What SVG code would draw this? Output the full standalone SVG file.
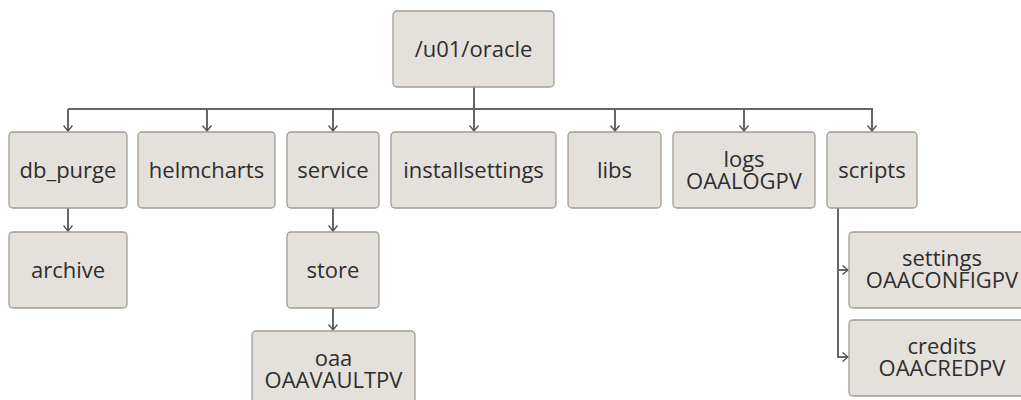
<svg xmlns="http://www.w3.org/2000/svg" width="1021" height="400" viewBox="0 0 1021 400">
<defs>
<style>
.box{fill:#e4e1dc;stroke:#a19b94;stroke-width:1.3}
.t{font-family:"Open Sans","Noto Sans",sans-serif;font-size:22px;fill:#2e2e2e;text-anchor:middle}
.c{fill:none;stroke:#666;stroke-width:2}
</style>
<marker id="ah" viewBox="0 0 10 10" refX="9" refY="5" markerWidth="10" markerHeight="10" markerUnits="userSpaceOnUse" orient="auto">
<path d="M3.5,0.5 L9,5 L3.5,9.5" fill="none" stroke="#555" stroke-width="1.4"/>
</marker>
</defs>
<rect width="1021" height="400" fill="#fff"/>
<g id="connectors">
<path class="c" d="M474,87 V131" marker-end="url(#ah)"/>
<path class="c" d="M68,109 H873"/>
<path class="c" d="M68,109 V131" marker-end="url(#ah)"/>
<path class="c" d="M207,109 V131" marker-end="url(#ah)"/>
<path class="c" d="M333,109 V131" marker-end="url(#ah)"/>
<path class="c" d="M615,109 V131" marker-end="url(#ah)"/>
<path class="c" d="M744,109 V131" marker-end="url(#ah)"/>
<path class="c" d="M872,109 V131" marker-end="url(#ah)"/>
<path class="c" d="M68,208 V231" marker-end="url(#ah)"/>
<path class="c" d="M333,208 V231" marker-end="url(#ah)"/>
<path class="c" d="M333,308 V330" marker-end="url(#ah)"/>
<path class="c" d="M838,208 V357 H848" marker-end="url(#ah)"/>
<path class="c" d="M838,270 H848" marker-end="url(#ah)"/>
</g>
<g id="root"><rect class="box" x="393" y="11" width="161" height="76" rx="4"/><text class="t" x="473.5" y="57">/u01/oracle</text></g>
<g id="db_purge"><rect class="box" x="9" y="132" width="118" height="76" rx="4"/><text class="t" x="68" y="178">db_purge</text></g>
<g id="helmcharts"><rect class="box" x="138" y="132" width="137" height="76" rx="4"/><text class="t" x="206.5" y="178">helmcharts</text></g>
<g id="service"><rect class="box" x="287" y="132" width="92" height="76" rx="4"/><text class="t" x="333" y="178">service</text></g>
<g id="installsettings"><rect class="box" x="391" y="132" width="165" height="76" rx="4"/><text class="t" x="473.5" y="178">installsettings</text></g>
<g id="libs"><rect class="box" x="568" y="132" width="93" height="76" rx="4"/><text class="t" x="614.5" y="178">libs</text></g>
<g id="logs"><rect class="box" x="673" y="132" width="142" height="76" rx="4"/><text class="t" x="744" y="167">logs</text><text class="t" x="744" y="189">OAALOGPV</text></g>
<g id="scripts"><rect class="box" x="827" y="132" width="90" height="76" rx="4"/><text class="t" x="872" y="178">scripts</text></g>
<g id="archive"><rect class="box" x="9" y="232" width="118" height="76" rx="4"/><text class="t" x="68" y="278">archive</text></g>
<g id="store"><rect class="box" x="287" y="232" width="92" height="76" rx="4"/><text class="t" x="333" y="278">store</text></g>
<g id="oaa"><rect class="box" x="252" y="331" width="163" height="76" rx="4"/><text class="t" x="333.5" y="366">oaa</text><text class="t" x="333.5" y="388">OAAVAULTPV</text></g>
<g id="settings"><rect class="box" x="849" y="232" width="186" height="76" rx="4"/><text class="t" x="942" y="266">settings</text><text class="t" x="942" y="288">OAACONFIGPV</text></g>
<g id="credits"><rect class="box" x="849" y="320" width="186" height="76" rx="4"/><text class="t" x="942" y="354">credits</text><text class="t" x="942" y="376">OAACREDPV</text></g>
</svg>
